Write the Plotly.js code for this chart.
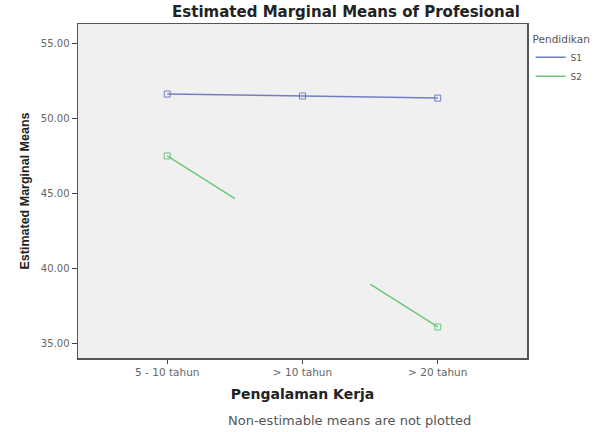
<!DOCTYPE html>
<html>
<head>
<meta charset="utf-8">
<script src="https://cdn.plot.ly/plotly-3.0.1.min.js"></script>
<style>html,body{margin:0;padding:0;background:#fff;}#chart{width:606px;height:432px;}</style>
</head>
<body>
<div id="chart"></div>
<script>
// Data
const categories = ["5 - 10 tahun", "> 10 tahun", "> 20 tahun"];
const seriesNames = ["S1", "S2"];
const s1Values = [51.6, 51.47, 51.33];
const s2Values = [47.47, null, 36.07];   // middle cell is non-estimable
const yTicks = [35, 40, 45, 50, 55];

const colS1 = "#6f7fc6";
const colS2 = "#6cc77a";
const FONT = "Liberation Sans, Arial, sans-serif";
const WIDE = "DejaVu Sans, Verdana, sans-serif";

const traces = [
  {
    x: categories, y: s1Values, name: seriesNames[0], type: "scatter", mode: "lines+markers",
    line: {color: colS1, width: 1.5},
    marker: {symbol: "square-open", size: 6, color: colS1, line: {width: 1}},
    showlegend: false, hoverinfo: "x+y+name"
  },
  {
    x: categories, y: s2Values, name: seriesNames[1], type: "scatter", mode: "lines+markers",
    connectgaps: true,
    line: {color: colS2, width: 1.5, dash: "80px,160px,80px"},
    marker: {symbol: "square-open", size: 6, color: colS2, line: {width: 1}},
    showlegend: false, hoverinfo: "x+y+name"
  },
  // legend-only entries (line symbol only)
  {x: [null], y: [null], name: seriesNames[0], type: "scatter", mode: "lines", line: {color: colS1, width: 1.5}},
  {x: [null], y: [null], name: seriesNames[1], type: "scatter", mode: "lines", line: {color: colS2, width: 1.5}}
];

const layout = {
  width: 606, height: 432,
  margin: {l: 78, r: 79, t: 24, b: 74},
  paper_bgcolor: "#ffffff",
  plot_bgcolor: "#f0f0f0",
  font: {family: FONT, color: "#333"},
  title: {
    text: "<b>Estimated Marginal Means of Profesional</b>",
    font: {family: WIDE, size: 15, color: "#222"},
    x: 0.571, xanchor: "center", xref: "container",
    y: 0.972, yanchor: "middle", yref: "container"
  },
  xaxis: {
    type: "category", categoryorder: "array", categoryarray: categories,
    range: [-0.66, 2.66],
    showline: true, mirror: true, linecolor: "#555", linewidth: 1.5,
    ticks: "outside", ticklen: 4, tickcolor: "#444", tickwidth: 1,
    showgrid: false, zeroline: false,
    tickfont: {family: WIDE, size: 10.5, color: "#666"},
    title: {text: "<b>Pengalaman Kerja</b>", font: {family: WIDE, size: 14, color: "#222"}, standoff: 12}
  },
  yaxis: {
    range: [34.0, 56.27],
    tickvals: yTicks, tickformat: ".2f",
    showline: true, mirror: true, linecolor: "#555", linewidth: 1.5,
    ticks: "outside", ticklen: 5, tickcolor: "#444", tickwidth: 1,
    showgrid: false, zeroline: false,
    tickfont: {family: WIDE, size: 10, color: "#666"},
    title: {text: "<b>Estimated Marginal Means</b>", font: {family: FONT, size: 12.5, color: "#222"}, standoff: 8}
  },
  legend: {
    x: 1.008, xanchor: "left", y: 0.985, yanchor: "top",
    bgcolor: "rgba(0,0,0,0)",
    font: {family: WIDE, size: 9, color: "#555"},
    title: {text: "Pendidikan", font: {family: WIDE, size: 10.5, color: "#555"}},
    tracegroupgap: 0, itemwidth: 30
  },
  annotations: [
    {
      text: "Non-estimable means are not plotted",
      xref: "paper", yref: "paper", x: 0.605, y: -0.188,
      xanchor: "center", yanchor: "middle", showarrow: false,
      font: {family: WIDE, size: 13, color: "#555"}
    }
  ],
  showlegend: true
};

Plotly.newPlot("chart", traces, layout, {displayModeBar: false, staticPlot: true});
</script>
</body>
</html>
